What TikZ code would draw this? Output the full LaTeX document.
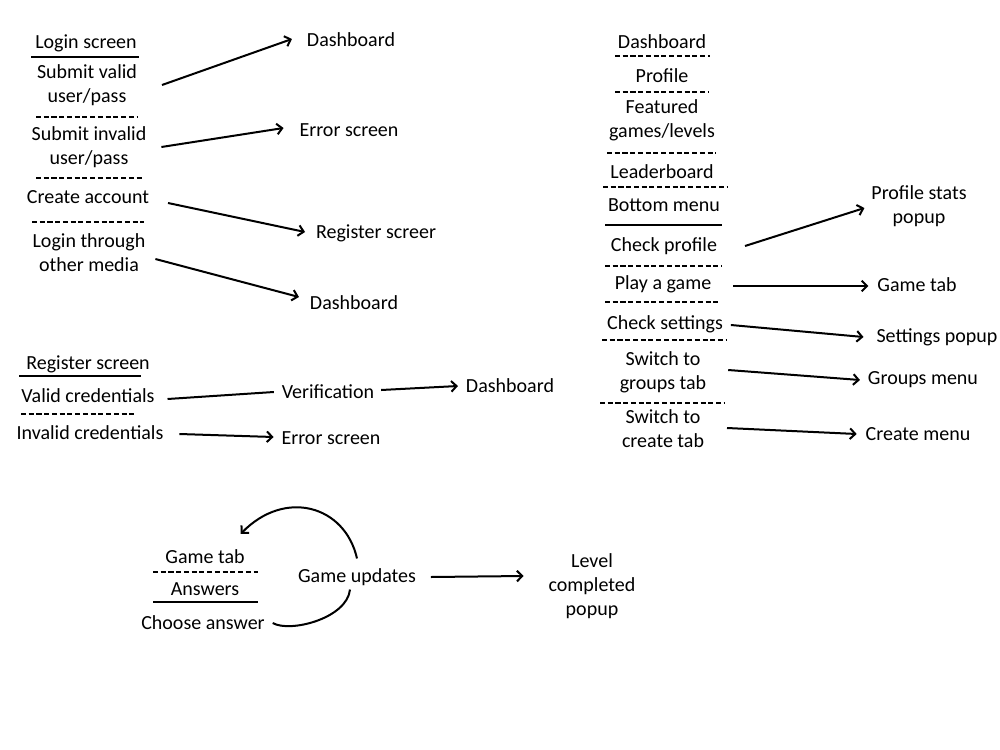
\documentclass[tikz,border=0pt]{standalone}
\usepackage{fontspec}
\setmainfont{Carlito}
\usetikzlibrary{arrows.meta,calc}
\begin{document}
\begin{tikzpicture}[x=0.75pt,y=-0.75pt, line width=1.5pt,
  lbl/.style={inner sep=0pt, align=center, font=\fontsize{15}{18}\selectfont},
  arr/.style={-{Straight Barb[length=4pt,width=8pt]}},
  dsep/.style={line width=1.4pt, dash pattern=on 3.8pt off 2pt}]
\useasboundingbox (0,0) rectangle (1000,750);

% Login block
\node[lbl] (ls) at (86,43) {Login screen};
\draw (31,57) -- (139,57);
\node[lbl] (sv) at (87,85) {Submit valid\\user/pass};
\draw[dsep] (36,117) -- (137,117);
\node[lbl] (si) at (89,147) {Submit invalid\\user/pass};
\draw[dsep] (36,178) -- (143,178);
\node[lbl] (ca) at (88,197) {Create account};
\draw[dsep] (32,222) -- (144,222);
\node[lbl] (lt) at (89,253) {Login through\\other media};
\node[lbl] (d1) at (351,40) {Dashboard};
\node[lbl] (e1) at (349,130) {Error screen};
\node[lbl] (r1) at (376,233) {Register screer};
\node[lbl] (d2) at (354,303) {Dashboard};
\draw[arr] ($(sv.east)+(24,0)$) -- ($(d1.west)+(-14,-1)$);
\draw[arr] ($(si.east)+(14,0)$) -- ($(e1.west)+(-15,-2)$);
\draw[arr] ($(ca.east)+(18,6)$) -- ($(r1.west)+(-10,-1)$);
\draw[arr] ($(lt.east)+(9,6)$) -- ($(d2.west)+(-10,-6)$);

% Register block
\node[lbl] (rs) at (88,364) {Register screen};
\draw (19,376) -- (141,376);
\node[lbl] (vc) at (88,396) {Valid credentials};
\draw[dsep] (21,414) -- (135,414);
\node[lbl] (ic) at (90,433) {Invalid credentials};
\node[lbl] (vf) at (328,392) {Verification};
\node[lbl] (d3) at (510,386) {Dashboard};
\node[lbl] (e2) at (331,438) {Error screen};
\draw ($(vc.east)+(12,3)$) -- ($(vf.west)+(-7,0)$);
\draw[arr] ($(vf.east)+(6,-2)$) -- ($(d3.west)+(-7,0)$);
\draw[arr] ($(ic.east)+(15,1)$) -- ($(e2.west)+(-7,-1)$);

% Dashboard block
\node[lbl] (db) at (662,42) {Dashboard};
\draw[dsep] (615,56) -- (710,56);
\node[lbl] (pr) at (662,76) {Profile};
\draw[dsep] (615,92) -- (708,92);
\node[lbl] (fg) at (662,120) {Featured\\games/levels};
\draw[dsep] (607,153) -- (716,153);
\node[lbl] (lb) at (662,172) {Leaderboard};
\draw[dsep] (603,187) -- (728,187);
\node[lbl] (bm) at (664,205) {Bottom menu};
\draw (605,225) -- (722,225);
\node[lbl] (cp) at (664,246) {Check profile};
\draw[dsep] (605,266) -- (722,266);
\node[lbl] (pg) at (663,284) {Play a game};
\draw[dsep] (605,302) -- (720,302);
\node[lbl] (cs) at (665,324) {Check settings};
\draw[dsep] (602,340) -- (727,340);
\node[lbl] (sg) at (663,372) {Switch to\\groups tab};
\draw[dsep] (600,403) -- (725,403);
\node[lbl] (sc) at (663,429) {Switch to\\create tab};

\node[lbl] (ps) at (919,206) {Profile stats\\popup};
\node[lbl] (gt1) at (917,285) {Game tab};
\node[lbl] (sp) at (937,337) {Settings popup};
\node[lbl] (gm) at (923,380) {Groups menu};
\node[lbl] (cm) at (918,434) {Create menu};
\draw[arr] ($(cp.east)+(27,0)$) -- ($(ps.west)+(-6,2)$);
\draw[arr] ($(pg.east)+(21,2)$) -- ($(gt1.west)+(-8,1)$);
\draw[arr] ($(cs.east)+(7,1)$) -- ($(sp.west)+(-12,0)$);
\draw[arr] ($(sg.east)+(21,-2)$) -- ($(gm.west)+(-7,0)$);
\draw[arr] ($(sc.east)+(22,-1)$) -- ($(cm.west)+(-8,0)$);

% Game block
\node[lbl] (gt) at (205,557) {Game tab};
\draw[dsep] (153,572) -- (258,572);
\node[lbl] (an) at (205,589) {Answers};
\draw (153,602) -- (258,602);
\node[lbl] (ch) at (203,623) {Choose answer};
\node[lbl] (gu) at (357,577) {Game updates};
\node[lbl] (lc) at (592,586) {Level\\completed\\popup};
\draw[arr] ($(gu.east)+(14,0)$) -- ($(lc.west)+(-24,-10)$);
\draw[arr] ($(gu.north)+(0,-9)$) .. controls ($(gu.north)+(-12,-62)$) and ($(gu.north)+(-72,-79)$) .. ($(gt.north east)+(-5,-15)$);
\draw ($(ch.east)+(7,0)$) .. controls ($(ch.east)+(24,10)$) and ($(gu.south)+(-10,32)$) .. ($(gu.south)+(-7,3)$);
\end{tikzpicture}
\end{document}
